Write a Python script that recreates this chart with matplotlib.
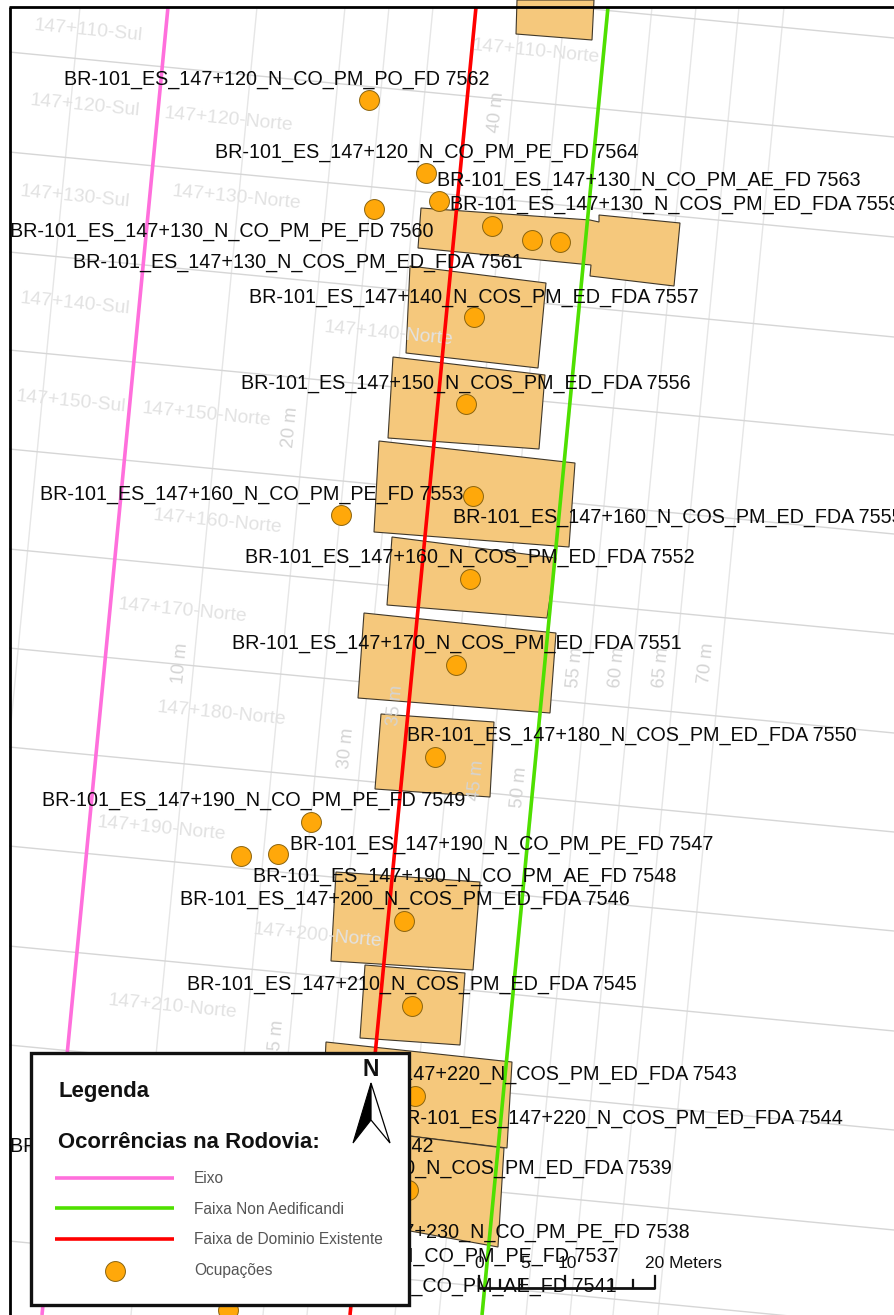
import matplotlib
matplotlib.use("Agg")
import matplotlib.pyplot as plt
from matplotlib.patches import Polygon, Rectangle

plt.rcParams['font.family'] = ['Liberation Sans', 'DejaVu Sans']

# ---- map data (map units = image pixels) ----
axis_x = [168, 42]
axis_y = [7, 1315]
faixa_dominio_x = [476, 350]
faixa_dominio_y = [7, 1315]
non_aedificandi_x = [608, 482]
non_aedificandi_y = [7, 1315]

grid_long_top = [80, 257, 345, 389, 433, 477, 521, 565, 609, 652, 696, 739, 784]
grid_long_bottom = [-46, 131, 219, 263, 307, 351, 395, 439, 483, 526, 570, 613, 658]
grid_long_ends = [7, 1315]

grid_cross_left = [-47, 52, 152, 252, 350, 449, 549, 648, 747, 846, 946, 1045, 1145, 1241]
grid_cross_right = [38, 137, 237, 337, 435, 534, 634, 733, 832, 931, 1031, 1130, 1230, 1326]
grid_cross_ends = [9, 894]

station_labels = ["147+110-Sul", "147+110-Norte", "147+120-Sul", "147+120-Norte", "147+130-Sul",
                  "147+130-Norte", "147+140-Sul", "147+140-Norte", "147+150-Sul", "147+150-Norte",
                  "147+160-Norte", "147+170-Norte", "147+180-Norte", "147+190-Norte",
                  "147+200-Norte", "147+210-Norte"]
station_x = [88, 536, 85, 228, 75, 236, 75, 388, 71, 206, 217, 182, 221, 161, 317, 172]
station_y = [31, 52, 106, 120, 197, 198, 304, 334, 402, 415, 522, 611, 714, 829, 936, 1007]

offset_labels = ["10 m", "20 m", "25 m", "30 m", "35 m", "40 m", "45 m", "50 m", "55 m", "60 m", "65 m", "70 m"]
offset_x = [180, 290, 276, 346, 395, 496, 476, 519, 575, 617, 661, 706]
offset_y = [663, 427, 1040, 748, 705, 112, 780, 787, 667, 667, 667, 663]

building_1 = [(517, 0), (594, 0), (592, 40), (516, 34)]
building_2 = [(421, 208), (590, 220), (599, 222), (599, 215), (680, 223), (674, 286),
              (590, 276), (591, 265), (418, 248)]
building_3 = [(410, 266), (546, 283), (538, 368), (406, 353)]
building_4 = [(393, 357), (545, 375), (539, 449), (388, 438)]
building_5 = [(379, 441), (575, 463), (569, 547), (374, 532)]
building_6 = [(392, 537), (556, 558), (547, 618), (387, 605)]
building_7 = [(364, 613), (556, 633), (550, 713), (358, 698)]
building_8 = [(381, 714), (494, 722), (490, 797), (375, 789)]
building_9 = [(336, 872), (480, 882), (473, 970), (331, 961)]
building_10 = [(365, 965), (465, 973), (460, 1045), (360, 1038)]
building_11 = [(326, 1042), (512, 1062), (507, 1148), (322, 1125)]
building_12 = [(322, 1125), (504, 1148), (498, 1247), (322, 1215)]
buildings = [building_1, building_2, building_3, building_4, building_5, building_6,
             building_7, building_8, building_9, building_10, building_11, building_12]

ocupacao_x = [369, 426, 439, 374, 492, 532, 560, 474, 466, 473, 341, 470, 456,
              435, 311, 241, 278, 404, 412, 415, 408, 228]
ocupacao_y = [100, 173, 201, 209, 226, 240, 242, 317, 404, 496, 515, 579, 665,
              757, 822, 856, 854, 921, 1006, 1096, 1190, 1310]

occurrence_labels = [
    "BR-101_ES_147+120_N_CO_PM_PO_FD 7562", "BR-101_ES_147+120_N_CO_PM_PE_FD 7564",
    "BR-101_ES_147+130_N_CO_PM_AE_FD 7563", "BR-101_ES_147+130_N_COS_PM_ED_FDA 7559",
    "BR-101_ES_147+130_N_CO_PM_PE_FD 7560", "BR-101_ES_147+130_N_COS_PM_ED_FDA 7561",
    "BR-101_ES_147+140_N_COS_PM_ED_FDA 7557", "BR-101_ES_147+150_N_COS_PM_ED_FDA 7556",
    "BR-101_ES_147+160_N_CO_PM_PE_FD 7553", "BR-101_ES_147+160_N_COS_PM_ED_FDA 7555",
    "BR-101_ES_147+160_N_COS_PM_ED_FDA 7552", "BR-101_ES_147+170_N_COS_PM_ED_FDA 7551",
    "BR-101_ES_147+180_N_COS_PM_ED_FDA 7550", "BR-101_ES_147+190_N_CO_PM_PE_FD 7549",
    "BR-101_ES_147+190_N_CO_PM_PE_FD 7547", "BR-101_ES_147+190_N_CO_PM_AE_FD 7548",
    "BR-101_ES_147+200_N_COS_PM_ED_FDA 7546", "BR-101_ES_147+210_N_COS_PM_ED_FDA 7545",
    "BR-101_ES_147+220_N_COS_PM_ED_FDA 7543", "BR-101_ES_147+220_N_COS_PM_ED_FDA 7544",
    "BR-101_ES_147+220_N_CO_PM_PE_FD 7542", "BR-101_ES_147+230_N_COS_PM_ED_FDA 7539",
    "BR-101_ES_147+230_N_CO_PM_PE_FD 7538", "BR-101_ES_147+240_N_CO_PM_PE_FD 7537",
    "BR-101_ES_147+240_N_CO_PM_AE_FD 7541"]
occurrence_x = [64, 215, 437, 450, 10, 73, 249, 241, 40, 453, 245, 232, 407, 42, 290, 253,
                180, 187, 287, 393, 10, 222, 266, 195, 193]
occurrence_y = [79, 152, 180, 204, 231, 262, 297, 383, 494, 517, 557, 643, 735, 800, 844, 876,
                899, 984, 1074, 1118, 1146, 1169, 1233, 1256, 1286]

legend_title = "Legenda"
legend_subtitle = "Ocorrências na Rodovia:"
legend_names = ["Eixo", "Faixa Non Aedificandi", "Faixa de Dominio Existente", "Ocupações"]

scale_tick_major = [479, 565, 655]
scale_tick_minor = [500, 522, 612, 633]
scale_labels = ["0", "5", "10"]
scale_label_x = [479, 525, 567]

arrow_left = [(371, 1083), (353, 1143), (371, 1120)]
arrow_right = [(371, 1083), (390, 1143), (371, 1120)]

# ---- drawing ----
PINK, GREEN, RED = '#ff6fdc', '#4fe000', '#ff0000'
ORANGE = '#ffa80a'

fig = plt.figure(figsize=(8.94, 13.15), dpi=100)
ax = fig.add_axes([0, 0, 1, 1])
ax.set_xlim(0, 894)
ax.set_ylim(1315, 0)
ax.axis('off')

map_clip = Rectangle((9, 7), 885, 1308, transform=ax.transData)
for top, bottom in zip(grid_long_top, grid_long_bottom):
    line, = ax.plot([top, bottom], grid_long_ends, color='#e6e6e6', lw=1.0, zorder=1)
    line.set_clip_path(map_clip)
for left, right in zip(grid_cross_left, grid_cross_right):
    line, = ax.plot(grid_cross_ends, [left, right], color='#d6d6d6', lw=1.0, zorder=1)
    line.set_clip_path(map_clip)

for poly in buildings:
    ax.add_patch(Polygon(poly, closed=True, facecolor='#f5c87c', edgecolor='#40382a', lw=0.8, zorder=2))

for s, x, y in zip(station_labels, station_x, station_y):
    ax.text(x, y, s, color='#e2e2e2', fontsize=13.9, rotation=-5.5, rotation_mode='anchor',
            ha='center', va='center', zorder=3)
for s, x, y in zip(offset_labels, offset_x, offset_y):
    ax.text(x, y, s, color='#d4d4d4', fontsize=13.2, rotation=84.5, rotation_mode='anchor',
            ha='center', va='center', zorder=3)

ax.plot(axis_x, axis_y, color=PINK, lw=2.6, zorder=4, label=legend_names[0], solid_capstyle='butt')
ax.plot(non_aedificandi_x, non_aedificandi_y, color=GREEN, lw=2.6, zorder=4, label=legend_names[1], solid_capstyle='butt')
ax.plot(faixa_dominio_x, faixa_dominio_y, color=RED, lw=2.6, zorder=4, label=legend_names[2], solid_capstyle='butt')
ax.scatter(ocupacao_x, ocupacao_y, s=205, color=ORANGE, edgecolor='#8a6410', linewidth=0.7, zorder=5,
           label=legend_names[3])

for s, x, y in zip(occurrence_labels, occurrence_x, occurrence_y):
    ax.text(x, y, s, color='#0a0a0a', fontsize=14.2, ha='left', va='center', zorder=6, clip_on=True)

# frame
ax.plot([9.5, 9.5], [1315, 6.5], color='black', lw=2.0, zorder=7, solid_capstyle='butt')
ax.plot([8.5, 894], [6.5, 6.5], color='black', lw=2.0, zorder=7, solid_capstyle='butt')

# scale bar
ax.plot([479, 655], [1288, 1288], color='#111111', lw=2.0, zorder=8, solid_capstyle='butt')
for x in scale_tick_major:
    ax.plot([x, x], [1288, 1276], color='#111111', lw=1.6, zorder=8)
for x in scale_tick_minor:
    ax.plot([x, x], [1288, 1280], color='#111111', lw=1.6, zorder=8)
for s, x in zip(scale_labels, scale_label_x):
    ax.text(x, 1263, s, color='#111111', fontsize=12.5, ha='center', va='center', zorder=8)
ax.text(645, 1263, "20 Meters", color='#111111', fontsize=12.5, ha='left', va='center', zorder=8)

# legend box
ax.add_patch(Rectangle((31, 1053), 378, 252, facecolor='white', edgecolor='#111111', lw=2.4, zorder=9))
ax.text(58, 1092, legend_title, fontsize=15.9, fontweight='bold', ha='left', va='center', color='#111111', zorder=10)
ax.text(58, 1143, legend_subtitle, fontsize=15.9, fontweight='bold', ha='left', va='center', color='#111111', zorder=10)
leg = ax.legend(loc='upper left', bbox_to_anchor=(55, 1171), bbox_transform=ax.transData,
                frameon=False, fontsize=11.2, labelcolor='#555555', labelspacing=1.0,
                handlelength=7.65, handletextpad=1.29, borderpad=0, borderaxespad=0)
leg.set_zorder(10)

# north arrow
ax.text(371, 1069, "N", fontsize=16.5, fontweight='bold', ha='center', va='center', color='#111111', zorder=10)
ax.add_patch(Polygon(arrow_left, closed=True, facecolor='black', edgecolor='black', lw=0.8, zorder=10))
ax.add_patch(Polygon(arrow_right, closed=True, facecolor='white', edgecolor='black', lw=0.9, zorder=10))

fig.savefig('out.png', dpi=100, facecolor='white')
